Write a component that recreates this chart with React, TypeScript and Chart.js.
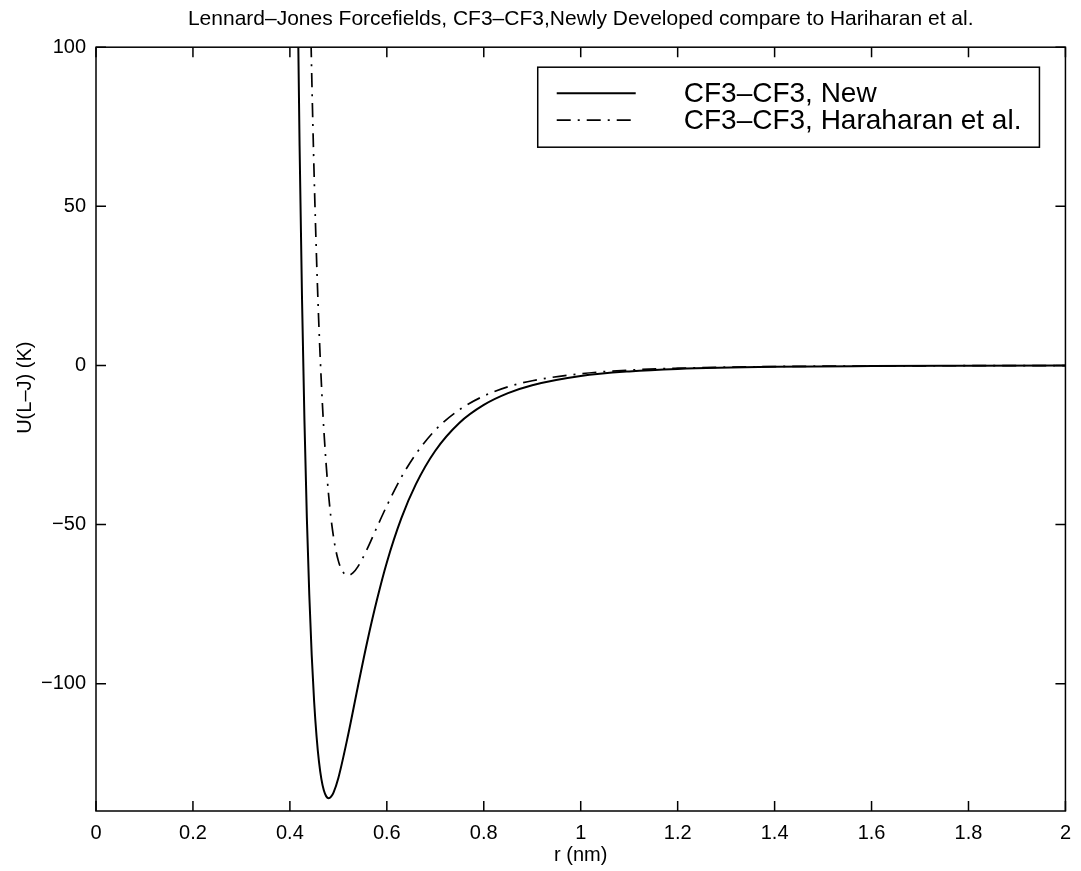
import { useEffect, useRef } from "react";
import { Chart, registerables } from "chart.js";

Chart.register(...registerables);

const TITLE = "Lennard–Jones Forcefields, CF3–CF3,Newly Developed compare to Hariharan et al.";
const X_LABEL = "r (nm)";
const Y_LABEL = "U(L–J) (K)";
const SERIES_LABELS = ["CF3–CF3, New", "CF3–CF3, Haraharan et al."];

const X_MIN = 0;
const X_MAX = 2;
const Y_MIN = -140;
const Y_MAX = 100;
const X_TICKS = [0, 0.2, 0.4, 0.6, 0.8, 1, 1.2, 1.4, 1.6, 1.8, 2];
const Y_TICKS = [-100, -50, 0, 50, 100];

// Series 1: CF3-CF3, New (solid)
const rNew = [
  0.41, 0.415, 0.42, 0.425, 0.43, 0.435, 0.44, 0.445, 0.45, 0.455, 0.46, 0.465,
  0.47, 0.475, 0.48, 0.485, 0.49, 0.5, 0.52, 0.54, 0.56, 0.58, 0.6, 0.63, 0.66,
  0.7, 0.75, 0.8, 0.85, 0.9, 1.0, 1.1, 1.2, 1.4, 1.6, 1.8, 2.0,
];
const uNew = [
  201, 129, 69, 21.2, -17.1, -47.9, -72, -91, -105.6, -116.5, -124.5, -130,
  -133.5, -135.4, -136, -135.5, -134.2, -129.6, -116.2, -101.1, -86.5, -73.4, -61.9, -48, -37.3,
  -26.8, -18, -12.4, -8.7, -6.2, -3.3, -1.87, -1.11, -0.44, -0.2, -0.1, -0.05,
];

// Series 2: CF3-CF3, Hariharan et al. (dash-dot)
const rHar = [
  0.435, 0.44, 0.445, 0.45, 0.455, 0.46, 0.465, 0.47, 0.48, 0.49, 0.5, 0.51,
  0.52, 0.53, 0.54, 0.56, 0.58, 0.6, 0.63, 0.66, 0.7, 0.75, 0.8, 0.85, 0.9,
  1.0, 1.1, 1.2, 1.4, 1.6, 1.8, 2.0,
];
const uHar = [
  176.7, 130.3, 91.7, 59.9, 33.6, 11.9, -5.7, -20.1, -40.9, -53.9, -61.4, -65,
  -66, -65.2, -63.3, -57.5, -50.7, -44.1, -35.1, -27.8, -20.3, -13.9, -9.6, -6.7, -4.8,
  -2.6, -1.46, -0.87, -0.35, -0.16, -0.08, -0.04,
];

const FONT = "'Liberation Sans', Arial, Helvetica, sans-serif";
const DASH_DOT = [14, 7, 2, 7];

const framePlugin = {
  id: "frameAndLegend",
  afterDatasetsDraw(chart: any) {
    const { ctx, chartArea: a, scales } = chart;
    const xs = scales.x;
    const ys = scales.y;
    ctx.save();
    ctx.strokeStyle = "#000";
    ctx.lineWidth = 1.5;
    ctx.setLineDash([]);
    ctx.strokeRect(a.left, a.top, a.right - a.left, a.bottom - a.top);
    const tl = 10;
    ctx.beginPath();
    xs.ticks.forEach((t: any) => {
      const px = xs.getPixelForValue(t.value);
      ctx.moveTo(px, a.bottom);
      ctx.lineTo(px, a.bottom - tl);
      ctx.moveTo(px, a.top);
      ctx.lineTo(px, a.top + tl);
    });
    ys.ticks.forEach((t: any) => {
      const py = ys.getPixelForValue(t.value);
      ctx.moveTo(a.left, py);
      ctx.lineTo(a.left + tl, py);
      ctx.moveTo(a.right, py);
      ctx.lineTo(a.right - tl, py);
    });
    ctx.stroke();

    // y-axis label
    ctx.save();
    ctx.font = `20px ${FONT}`;
    ctx.fillStyle = "#000";
    ctx.textAlign = "center";
    ctx.textBaseline = "middle";
    ctx.translate(25, ys.getPixelForValue(-7));
    ctx.rotate(-Math.PI / 2);
    ctx.fillText(Y_LABEL, 0, 0);
    ctx.restore();

    // legend box
    ctx.font = `28px ${FONT}`;
    const ds = chart.data.datasets;
    let maxW = 0;
    ds.forEach((d: any) => {
      maxW = Math.max(maxW, ctx.measureText(d.label).width);
    });
    const boxRight = a.right - 26;
    const boxTop = a.top + 20;
    const boxH = 80;
    const textOffset = 146;
    const boxLeft = boxRight - (maxW + 18 + textOffset);
    ctx.fillStyle = "#fff";
    ctx.fillRect(boxLeft, boxTop, boxRight - boxLeft, boxH);
    ctx.lineWidth = 1.5;
    ctx.strokeRect(boxLeft, boxTop, boxRight - boxLeft, boxH);
    const rows = [boxTop + 26, boxTop + 53];
    ds.forEach((d: any, i: number) => {
      const yy = rows[i];
      ctx.beginPath();
      ctx.lineWidth = d.borderWidth;
      ctx.setLineDash(d.borderDash || []);
      ctx.moveTo(boxLeft + 19, yy);
      ctx.lineTo(boxLeft + 98, yy);
      ctx.stroke();
      ctx.setLineDash([]);
      ctx.fillStyle = "#000";
      ctx.textBaseline = "middle";
      ctx.textAlign = "left";
      ctx.fillText(d.label, boxLeft + textOffset, yy + 1);
    });
    ctx.restore();
  },
};

export default function App() {
  const ref = useRef<HTMLCanvasElement | null>(null);
  useEffect(() => {
    if (!ref.current) return;
    const chart = new Chart(ref.current, {
      type: "line",
      data: {
        datasets: [
          {
            label: SERIES_LABELS[0],
            data: rNew.map((r, i) => ({ x: r, y: uNew[i] })),
            borderColor: "#000",
            borderWidth: 2,
            pointRadius: 0,
            cubicInterpolationMode: "monotone",
            fill: false,
            clip: 0,
          },
          {
            label: SERIES_LABELS[1],
            data: rHar.map((r, i) => ({ x: r, y: uHar[i] })),
            borderColor: "#000",
            borderWidth: 1.7,
            borderDash: DASH_DOT,
            pointRadius: 0,
            cubicInterpolationMode: "monotone",
            fill: false,
            clip: 0,
          },
        ],
      },
      options: {
        animation: false,
        responsive: false,
        layout: { padding: { left: 0, right: 11, top: 0, bottom: 0 } },
        plugins: {
          legend: { display: false },
          tooltip: { enabled: false },
          title: {
            display: true,
            fullSize: false,
            text: TITLE,
            color: "#000",
            font: { family: FONT, size: 21, weight: "normal" },
            padding: { top: 7, bottom: 15 },
          },
        },
        scales: {
          x: {
            type: "linear",
            min: X_MIN,
            max: X_MAX,
            afterBuildTicks: (s: any) => {
              s.ticks = X_TICKS.map((v) => ({ value: v }));
            },
            afterFit: (s: any) => {
              s.height = 60;
            },
            grid: { display: false, drawTicks: false, tickLength: 0 },
            border: { display: false },
            ticks: {
              color: "#000",
              font: { family: FONT, size: 20 },
              padding: 10,
              maxRotation: 0,
              autoSkip: false,
              callback: (v: any) => String(Number(v)),
            },
            title: {
              display: true,
              text: X_LABEL,
              color: "#000",
              font: { family: FONT, size: 20 },
              padding: { top: 0, bottom: 4 },
            },
          },
          y: {
            type: "linear",
            min: Y_MIN,
            max: Y_MAX,
            afterBuildTicks: (s: any) => {
              s.ticks = Y_TICKS.map((v) => ({ value: v }));
            },
            afterFit: (s: any) => {
              s.width = 96;
            },
            grid: { display: false, drawTicks: false, tickLength: 0 },
            border: { display: false },
            ticks: {
              color: "#000",
              font: { family: FONT, size: 20 },
              padding: 10,
              autoSkip: false,
              callback: (v: any) => String(v).replace("-", "\u2212"),
            },
            title: { display: false },
          },
        },
      },
      plugins: [framePlugin],
    } as any);
    return () => chart.destroy();
  }, []);
  return (
    <div style={{ position: "fixed", left: 0, top: 0, width: 1081, height: 871, background: "#fff" }}>
      <canvas ref={ref} width={1081} height={871} />
    </div>
  );
}
